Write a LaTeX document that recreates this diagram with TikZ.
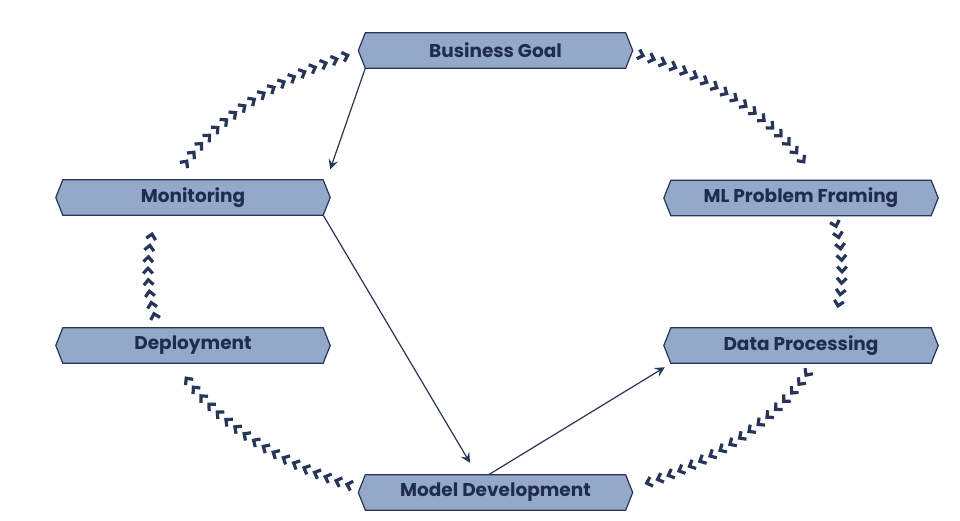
\documentclass[tikz,border=0pt]{standalone}
\usepackage{fontspec}
\setmainfont{Poppins}
\usetikzlibrary{arrows.meta,decorations.markings,backgrounds,calc}
\definecolor{boxfill}{HTML}{94A9CA}
\definecolor{navy}{HTML}{26355A}
\definecolor{txt}{HTML}{1F2D4D}
\newcommand\hexbox[1]{\path[fill=boxfill, draw=navy, line width=1.2pt, line join=miter]
  (#1.north west) -- (#1.north east) -- ([xshift=7pt]#1.east) -- (#1.south east)
  -- (#1.south west) -- ([xshift=-7pt]#1.west) -- cycle;}
\tikzset{
  stage/.style={minimum width=260pt, minimum height=35pt, inner sep=0pt,
    font=\bfseries\fontsize{18.5}{21}\selectfont, text=txt},
  chev/.style={navy, line width=3.2pt, line join=miter, line cap=butt},
  link/.style={navy, line width=1.2pt, -{Stealth[length=10pt,width=10pt,inset=4pt]}},
  chevchain/.style={decorate, decoration={markings,
    mark=between positions 0 and 1 step 11.5pt with
      {\draw[chev] (-3.6pt,4.8pt) -- (1.5pt,0pt) -- (-3.6pt,-4.8pt);}}}
}
\begin{document}
\begin{tikzpicture}[x=1pt,y=1pt]
\useasboundingbox (0,0) rectangle (960,520);
\node[stage] (bg)  at (495.5,469.5) {Business Goal};
\node[stage] (ml)  at (801,322)     {ML Problem Framing};
\node[stage] (dp)  at (801,174.5)   {Data Processing};
\node[stage] (md)  at (495.5,27.5)  {Model Development};
\node[stage] (dep) at (193,174.5)   {Deployment};
\node[stage] (mon) at (193,322.5)   {Monitoring};
\begin{scope}[on background layer]
  \hexbox{bg}\hexbox{ml}\hexbox{dp}\hexbox{md}\hexbox{dep}\hexbox{mon}
\end{scope}
\coordinate (c) at (495,250);
% chevron chains along an ellipse
\path[chevchain] (c) ++(65:347pt and 237pt) arc[start angle=65, end angle=27, x radius=347pt, y radius=237pt];
\path[chevchain] (c) ++(11:347pt and 237pt) arc[start angle=11, end angle=-11, x radius=347pt, y radius=237pt];
\path[chevchain] (c) ++(-26:347pt and 237pt) arc[start angle=-26, end angle=-65, x radius=347pt, y radius=237pt];
\path[chevchain] (c) ++(-115:347pt and 237pt) arc[start angle=-115, end angle=-153, x radius=347pt, y radius=237pt];
\path[chevchain] (c) ++(-169:347pt and 237pt) arc[start angle=-169, end angle=-191, x radius=347pt, y radius=237pt];
\path[chevchain] (c) ++(-207:347pt and 237pt) arc[start angle=-207, end angle=-245.5, x radius=347pt, y radius=237pt];
% thin connectors
\draw[link] (bg.south west) -- ([xshift=7pt,yshift=10.5pt]mon.north east);
\draw[link] (mon.south east) -- ([xshift=-25.5pt,yshift=12pt]md.north);
\draw[link] ([xshift=-7pt]md.north) -- ([xshift=-6pt,yshift=-4pt]dp.south west);
\end{tikzpicture}
\end{document}
